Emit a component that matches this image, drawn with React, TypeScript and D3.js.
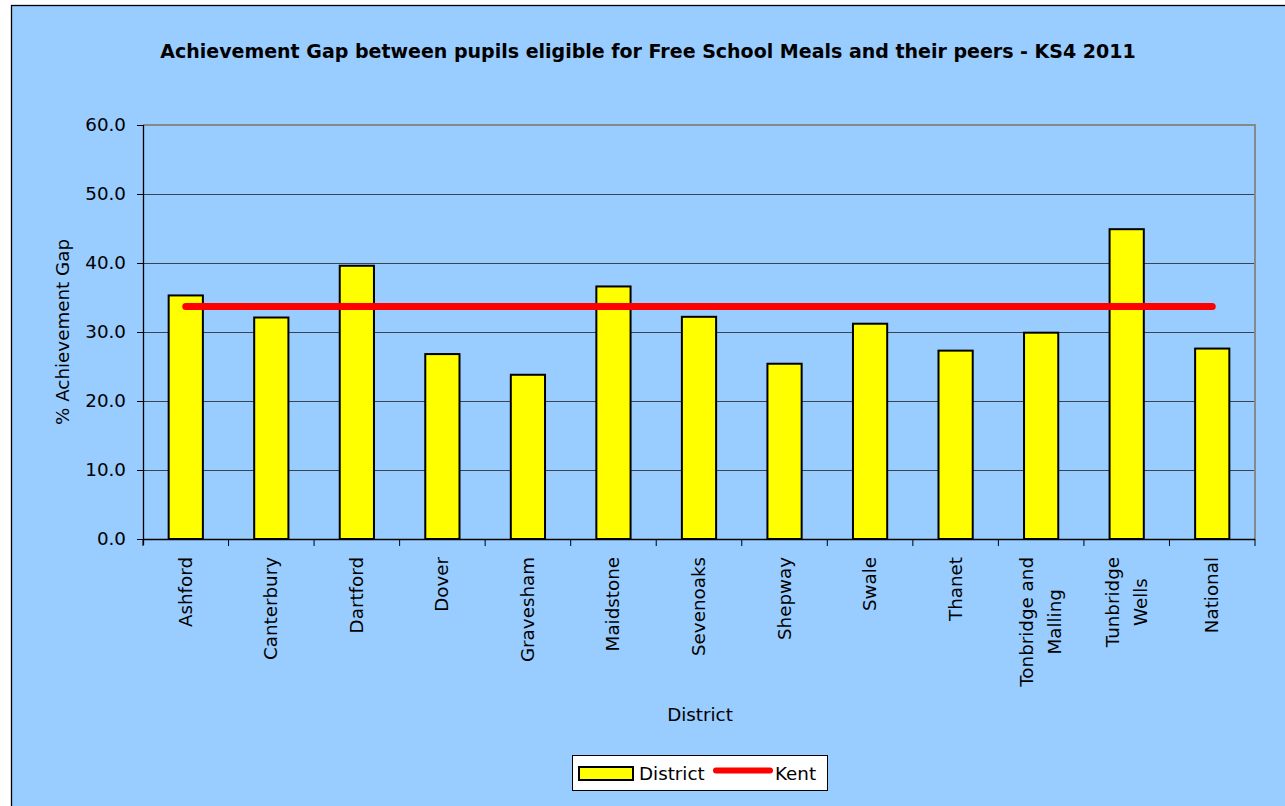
import * as React from 'react';
import * as d3 from 'd3';

const districts = ['Ashford', 'Canterbury', 'Dartford', 'Dover', 'Gravesham', 'Maidstone', 'Sevenoaks', 'Shepway', 'Swale', 'Thanet', 'Tonbridge and Malling', 'Tunbridge Wells', 'National'];
const districtGap = [35.3, 32.1, 39.6, 26.8, 23.8, 36.6, 32.2, 25.4, 31.2, 27.3, 29.9, 44.9, 27.6];
const kentGap = 33.7;
const yTicks = [0, 10, 20, 30, 40, 50, 60];
// labels wrapped as in the original
const labelLines: { [key: string]: string[] } = {
  'Tonbridge and Malling': ['Tonbridge and', 'Malling'],
  'Tunbridge Wells': ['Tunbridge', 'Wells'],
};

const W = 1285;
const H = 806;
const plot = { left: 143, right: 1255, top: 125, bottom: 539 };
const FONT = '"DejaVu Sans", Verdana, sans-serif';
const FS = 18.3;

export default function App() {
  const ref = React.useRef<SVGSVGElement>(null);

  React.useEffect(() => {
    const el = ref.current;
    if (!el) { return; }
    el.innerHTML = '';
    const svg = d3.select(el);

    const x = d3.scaleBand<string>().domain(districts).range([plot.left, plot.right]).paddingInner(0).paddingOuter(0);
    const y = d3.scaleLinear().domain([0, 60]).range([plot.bottom, plot.top]);
    const bw = x.bandwidth();
    const barW = bw * 0.4;

    // chart area
    svg.append('rect')
      .attr('x', 11.5).attr('y', 5.5)
      .attr('width', W + 10).attr('height', H + 10)
      .attr('fill', '#99CCFF').attr('stroke', '#000').attr('stroke-width', 1.3);

    svg.append('text')
      .attr('x', 648).attr('y', 58)
      .attr('text-anchor', 'middle')
      .attr('font-family', FONT).attr('font-weight', 'bold').attr('font-size', 19)
      .attr('fill', '#000')
      .text('Achievement Gap between pupils eligible for Free School Meals and their peers - KS4 2011');

    // gridlines
    svg.append('g').selectAll('line')
      .data(yTicks.filter(t => t > 0 && t < 60))
      .enter().append('line')
        .attr('x1', plot.left).attr('x2', plot.right)
        .attr('y1', d => y(d) + 0.5).attr('y2', d => y(d) + 0.5)
        .attr('stroke', '#3a4350').attr('stroke-width', 1);

    // plot border (top / right)
    svg.append('path')
      .attr('d', `M${plot.left},${plot.top}H${plot.right}V${plot.bottom}`)
      .attr('fill', 'none').attr('stroke', '#888').attr('stroke-width', 2);

    // bars
    svg.append('g').selectAll('rect')
      .data(districts)
      .enter().append('rect')
        .attr('x', d => x(d)! + (bw - barW) / 2)
        .attr('y', (d, i) => y(districtGap[i]))
        .attr('width', barW)
        .attr('height', (d, i) => y(0) - y(districtGap[i]))
        .attr('fill', '#FFFF00').attr('stroke', '#000').attr('stroke-width', 2);

    // Kent average line
    svg.append('line')
      .attr('x1', x(districts[0])! + bw / 2)
      .attr('x2', x(districts[districts.length - 1])! + bw / 2)
      .attr('y1', y(kentGap)).attr('y2', y(kentGap))
      .attr('stroke', '#FF0000').attr('stroke-width', 7).attr('stroke-linecap', 'round');

    // y axis
    const yAxis = svg.append('g')
      .attr('transform', `translate(${plot.left},0)`)
      .call(d3.axisLeft(y).tickValues(yTicks).tickFormat(d3.format('.1f')).tickSize(6).tickPadding(11));
    yAxis.select('.domain').attr('stroke', '#000').attr('stroke-width', 1.3).attr('d', `M0.5,${plot.top}V${plot.bottom + 6}`);
    yAxis.selectAll('.tick line').attr('stroke', '#000');
    yAxis.selectAll('.tick text')
      .attr('font-family', FONT).attr('font-size', FS).attr('fill', '#000');
    yAxis.attr('font-family', null).attr('font-size', null);

    // x axis line and ticks
    svg.append('line')
      .attr('x1', plot.left).attr('x2', plot.right)
      .attr('y1', plot.bottom + 0.5).attr('y2', plot.bottom + 0.5)
      .attr('stroke', '#000').attr('stroke-width', 1.5);
    svg.append('g').selectAll('line')
      .data([...districts.map(d => x(d)!), plot.right])
      .enter().append('line')
        .attr('x1', d => d).attr('x2', d => d)
        .attr('y1', plot.bottom).attr('y2', plot.bottom + 7)
        .attr('stroke', '#000').attr('stroke-width', 1);

    // x labels (rotated, centred lines, top aligned)
    const labelTop = 557;
    const lineGap = 28;
    districts.forEach(d => {
      const lines = labelLines[d] || [d];
      const cx = x(d)! + bw / 2;
      const g = svg.append('g');
      const texts = lines.map(ln => g.append('text')
        .attr('font-family', FONT).attr('font-size', FS).attr('fill', '#000')
        .attr('text-anchor', 'middle')
        .text(ln));
      const maxLen = Math.max(...texts.map(t => (t.node() as SVGTextElement).getComputedTextLength()));
      const cy = labelTop + maxLen / 2;
      texts.forEach((t, i) => {
        const bx = cx + (i - (lines.length - 1) / 2) * lineGap + 6;
        t.attr('transform', `translate(${bx},${cy}) rotate(-90)`);
      });
    });

    // axis titles
    svg.append('text')
      .attr('x', 700).attr('y', 721)
      .attr('text-anchor', 'middle')
      .attr('font-family', FONT).attr('font-size', FS).attr('fill', '#000')
      .text('District');
    svg.append('text')
      .attr('transform', `translate(69,${(plot.top + plot.bottom) / 2}) rotate(-90)`)
      .attr('text-anchor', 'middle')
      .attr('font-family', FONT).attr('font-size', FS).attr('fill', '#000')
      .text('% Achievement Gap');

    // legend
    const lg = svg.append('g');
    lg.append('rect')
      .attr('x', 572.5).attr('y', 755.5).attr('width', 255).attr('height', 35)
      .attr('fill', '#fff').attr('stroke', '#000').attr('stroke-width', 1);
    lg.append('rect')
      .attr('x', 579).attr('y', 767).attr('width', 54).attr('height', 13)
      .attr('fill', '#FFFF00').attr('stroke', '#000').attr('stroke-width', 2);
    lg.append('text')
      .attr('x', 639).attr('y', 780)
      .attr('font-family', FONT).attr('font-size', FS).attr('fill', '#000')
      .text('District');
    lg.append('line')
      .attr('x1', 716).attr('x2', 770).attr('y1', 770.5).attr('y2', 770.5)
      .attr('stroke', '#FF0000').attr('stroke-width', 6).attr('stroke-linecap', 'round');
    lg.append('text')
      .attr('x', 775).attr('y', 780)
      .attr('font-family', FONT).attr('font-size', FS).attr('fill', '#000')
      .text('Kent');
  }, []);

  return (
    <svg ref={ref} width={W} height={H}
      style={{ position: 'absolute', left: 0, top: 0, background: '#fff', display: 'block' }} />
  );
}
